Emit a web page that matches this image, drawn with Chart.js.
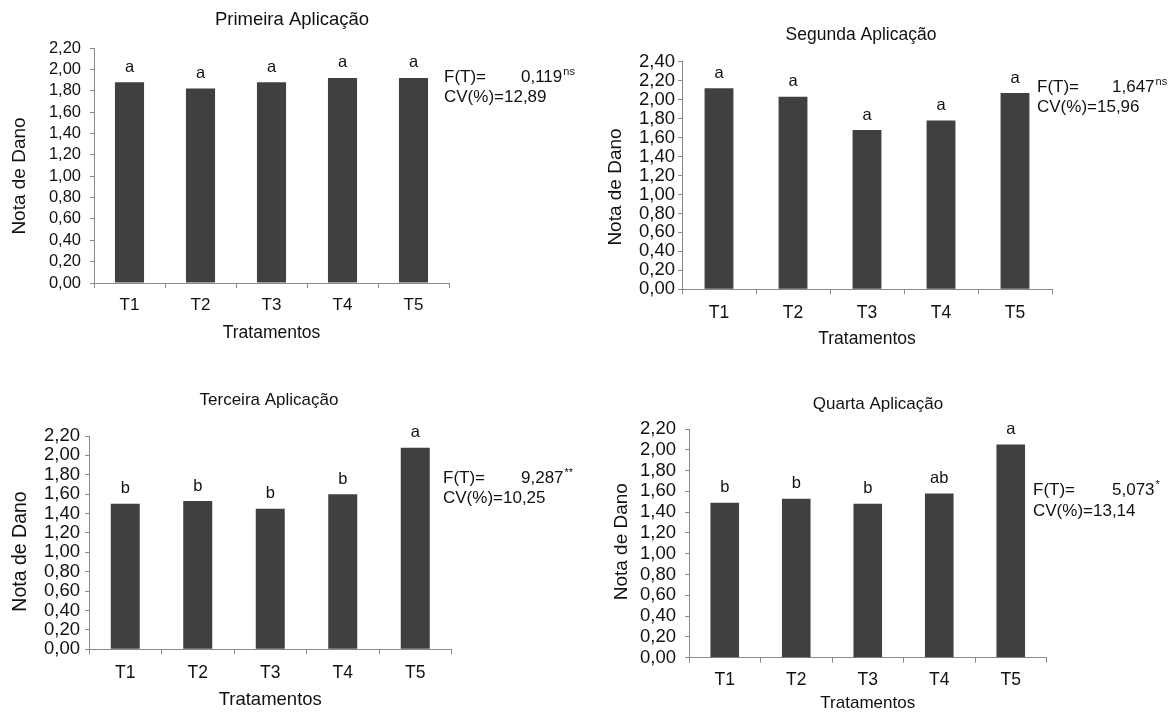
<!DOCTYPE html>
<html>
<head>
<meta charset="utf-8">
<script src="https://cdn.jsdelivr.net/npm/chart.js@4.4.0/dist/chart.umd.min.js"></script>
<style>
  html, body { margin: 0; padding: 0; background: #fff; width: 1175px; height: 713px; overflow: hidden; }
  canvas { position: absolute; }
</style>
</head>
<body>
<canvas id="c1" width="587" height="356" style="left:0px;top:0px"></canvas>
<canvas id="c2" width="588" height="356" style="left:587px;top:0px"></canvas>
<canvas id="c3" width="587" height="357" style="left:0px;top:356px"></canvas>
<canvas id="c4" width="588" height="357" style="left:587px;top:356px"></canvas>
<script>
// Treatments on the x axis
const categories = ['T1', 'T2', 'T3', 'T4', 'T5'];

// Mean damage score per treatment, one array per application
const primeira = [1.88, 1.82, 1.88, 1.92, 1.92];
const segunda  = [2.12, 2.03, 1.68, 1.78, 2.07];
const terceira = [1.50, 1.53, 1.45, 1.60, 2.08];
const quarta   = [1.49, 1.53, 1.48, 1.58, 2.05];

// Tukey letters above the bars
const letrasPrimeira = ['a', 'a', 'a', 'a', 'a'];
const letrasSegunda  = ['a', 'a', 'a', 'a', 'a'];
const letrasTerceira = ['b', 'b', 'b', 'b', 'a'];
const letrasQuarta   = ['b', 'b', 'b', 'ab', 'a'];

// Panel titles
const titulos = ['Primeira Aplicação', 'Segunda Aplicação', 'Terceira Aplicação', 'Quarta Aplicação'];

// ANOVA summary: F value, its significance mark and the coefficient of variation
const valoresF = ['0,119', '1,647', '9,287', '5,073'];
const signifF  = ['ns', 'ns', '**', '*'];
const valoresCV = ['12,89', '15,96', '10,25', '13,14'];

// Y axis ticks: top value and step of each panel
const yMaximos = [2.2, 2.4, 2.2, 2.2];
const yPasso = 0.2;

const FONT = "'Liberation Sans', Arial, Helvetica, sans-serif";
const TEXT = '#111111';
const AXIS = '#8a8a8a';
const BAR = '#404040';

// Placement of each panel inside its own canvas
const layouts = [
  { area: { l: 94, t: 48, r: 449, b: 283 }, barPct: 0.41,
    title: { x: 292, y: 20, size: 18.5 }, xTitle: { gap: 50, size: 17.5 }, yTitle: { x: 20, y: 176, size: 19 },
    xTickGap: 22, yTickPad: 9, yTickSize: 16.5, xTickSize: 17,
    stats: { fx: 444, y1: 77, y2: 97, vx: 521, size: 17 } },
  { area: { l: 95, t: 61.7, r: 465, b: 289.3 }, barPct: 0.39,
    title: { x: 274, y: 35, size: 17.5 }, xTitle: { gap: 50, size: 17.5 }, yTitle: { x: 29, y: 187, size: 19 },
    xTickGap: 23.4, yTickPad: 3, yTickSize: 18.5, xTickSize: 17.5,
    stats: { fx: 450, y1: 87, y2: 107, vx: 525, size: 17 } },
  { area: { l: 89, t: 80, r: 451.5, b: 293.3 }, barPct: 0.40,
    title: { x: 269, y: 44, size: 17 }, xTitle: { gap: 50.7, size: 18.5 }, yTitle: { x: 21, y: 195.5, size: 19.5 },
    xTickGap: 23.4, yTickPad: 5, yTickSize: 18.5, xTickSize: 17.5,
    stats: { fx: 443, y1: 122, y2: 142, vx: 521, size: 17 } },
  { area: { l: 102, t: 73, r: 459.5, b: 301.7 }, barPct: 0.40,
    title: { x: 291, y: 48, size: 17 }, xTitle: { gap: 45.3, size: 17 }, yTitle: { x: 35, y: 185.7, size: 19 },
    xTickGap: 22.3, yTickPad: 9, yTickSize: 18.5, xTickSize: 17.5,
    stats: { fx: 446, y1: 134, y2: 155, vx: 525, size: 17 } }
];

const series = [primeira, segunda, terceira, quarta];
const letras = [letrasPrimeira, letrasSegunda, letrasTerceira, letrasQuarta];

// Draws the title, axis titles, letters over the bars and the ANOVA note
function painelTexto(idx) {
  const L = layouts[idx];
  return {
    id: 'painelTexto' + idx,
    afterDraw(chart) {
      const ctx = chart.ctx;
      const a = chart.chartArea;
      ctx.save();
      ctx.fillStyle = TEXT;
      ctx.textAlign = 'center';
      ctx.textBaseline = 'middle';

      ctx.font = L.title.size + 'px ' + FONT;
      ctx.fillText(titulos[idx], L.title.x, L.title.y);

      ctx.font = L.xTitle.size + 'px ' + FONT;
      ctx.fillText('Tratamentos', (a.left + a.right) / 2, a.bottom + L.xTitle.gap);

      ctx.save();
      ctx.translate(L.yTitle.x, L.yTitle.y);
      ctx.rotate(-Math.PI / 2);
      ctx.font = L.yTitle.size + 'px ' + FONT;
      ctx.fillText('Nota de Dano', 0, 0);
      ctx.restore();

      ctx.font = '16.5px ' + FONT;
      const meta = chart.getDatasetMeta(0);
      meta.data.forEach((bar, i) => {
        ctx.fillText(letras[idx][i], bar.x, bar.y - 15);
      });

      const s = L.stats;
      ctx.textAlign = 'left';
      ctx.font = s.size + 'px ' + FONT;
      ctx.fillText('F(T)=', s.fx, s.y1);
      ctx.fillText(valoresF[idx], s.vx, s.y1);
      const w = ctx.measureText(valoresF[idx]).width;
      ctx.font = '11px ' + FONT;
      ctx.fillText(signifF[idx], s.vx + w + 1, s.y1 - 5);
      ctx.font = s.size + 'px ' + FONT;
      ctx.fillText('CV(%)=' + valoresCV[idx], s.fx, s.y2);
      ctx.restore();
    }
  };
}

function montar(idx) {
  const L = layouts[idx];
  const canvas = document.getElementById('c' + (idx + 1));
  const W = canvas.width, H = canvas.height;
  const xAxisH = 30;
  const xTickLen = 5, yTickLen = 4;
  const xTickLh = L.xTickSize * 1.2;
  new Chart(canvas, {
    type: 'bar',
    data: {
      labels: categories,
      datasets: [{
        data: series[idx],
        backgroundColor: BAR,
        borderWidth: 0,
        barPercentage: L.barPct,
        categoryPercentage: 1.0
      }]
    },
    options: {
      responsive: false,
      animation: false,
      devicePixelRatio: 1,
      layout: {
        padding: { left: 0, top: L.area.t, right: W - L.area.r, bottom: H - L.area.b - xAxisH }
      },
      plugins: { legend: { display: false }, tooltip: { enabled: false }, title: { display: false } },
      scales: {
        x: {
          type: 'category',
          offset: true,
          grid: { display: true, drawOnChartArea: false, offset: true, drawTicks: true, tickLength: xTickLen, color: AXIS, lineWidth: 1 },
          border: { display: true, color: AXIS, width: 1 },
          ticks: {
            color: TEXT,
            font: { family: FONT, size: L.xTickSize },
            padding: L.xTickGap - xTickLen - xTickLh / 2,
            maxRotation: 0, autoSkip: false
          },
          afterFit(scale) { scale.height = xAxisH; }
        },
        y: {
          type: 'linear',
          min: 0,
          max: yMaximos[idx],
          grid: { display: true, drawOnChartArea: false, drawTicks: true, tickLength: yTickLen, color: AXIS, lineWidth: 1 },
          border: { display: true, color: AXIS, width: 1 },
          ticks: {
            stepSize: yPasso,
            autoSkip: false,
            maxTicksLimit: 30,
            color: TEXT,
            font: { family: FONT, size: L.yTickSize },
            padding: L.yTickPad,
            callback: (v) => Number(v).toFixed(2).replace('.', ',')
          },
          afterFit(scale) { scale.width = L.area.l; }
        }
      }
    },
    plugins: [painelTexto(idx)]
  });
}

[0, 1, 2, 3].forEach(montar);
</script>
</body>
</html>
